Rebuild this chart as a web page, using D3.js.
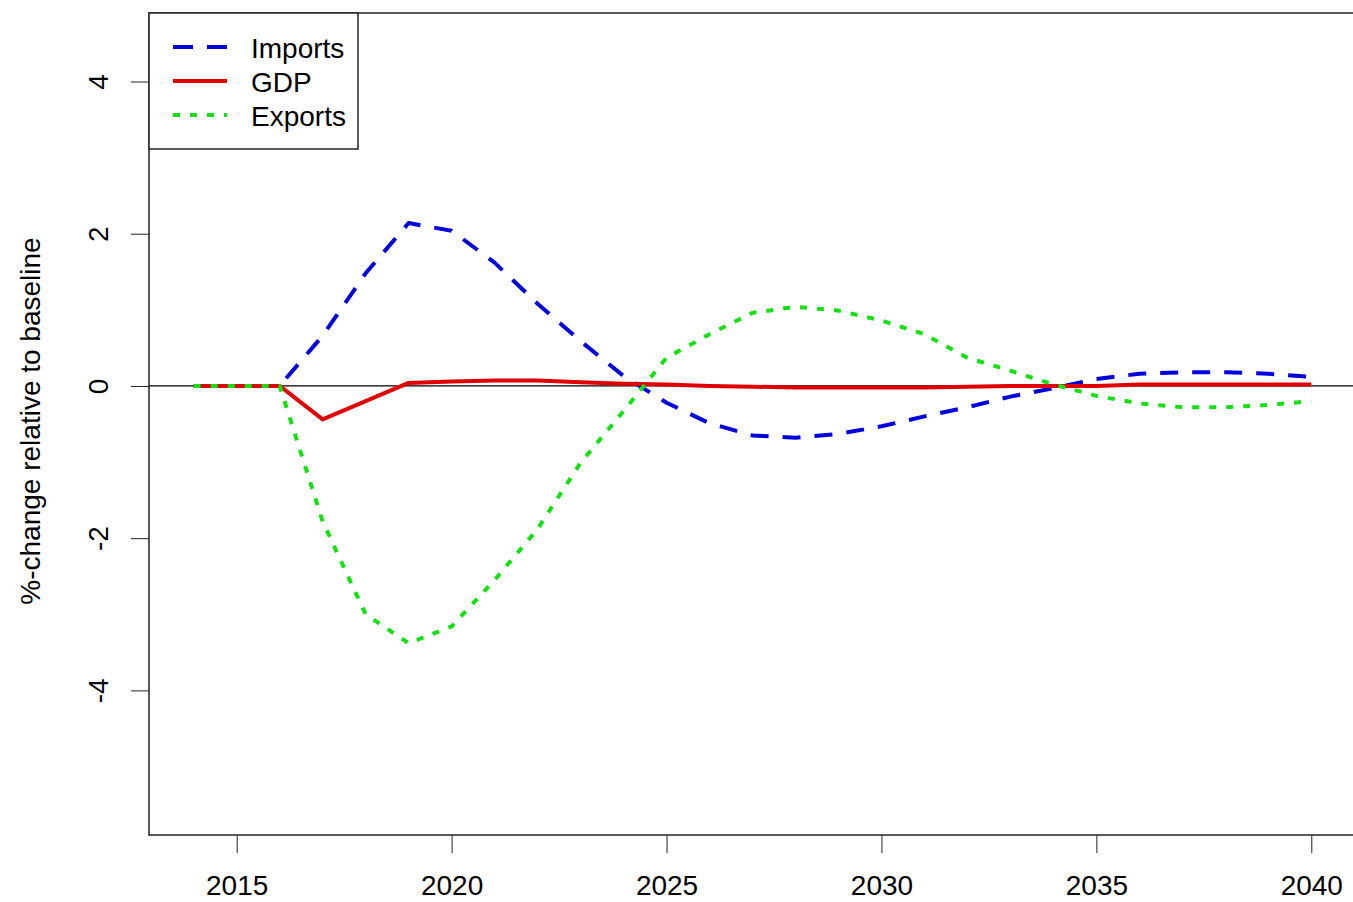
<!DOCTYPE html>
<html>
<head>
<meta charset="utf-8">
<script src="https://cdn.jsdelivr.net/npm/d3@7"></script>
<style>
  html, body { margin: 0; padding: 0; background: #fff; }
  svg { display: block; font-family: "Liberation Sans", Arial, sans-serif; }
</style>
</head>
<body>
<svg id="chart" width="1353" height="902"></svg>
<script>
const years = d3.range(2014, 2041);
const imports = [0, 0, 0, 0.66, 1.48, 2.14, 2.04, 1.62, 1.08, 0.59, 0.13, -0.22, -0.49, -0.65, -0.68, -0.63, -0.53, -0.40, -0.28, -0.14, -0.03, 0.09, 0.16, 0.18, 0.18, 0.16, 0.12];
const gdp = [0, 0, 0, -0.44, -0.20, 0.04, 0.06, 0.07, 0.07, 0.05, 0.03, 0.02, 0.0, -0.01, -0.02, -0.02, -0.02, -0.02, -0.01, 0.0, 0.0, 0.0, 0.02, 0.02, 0.02, 0.02, 0.02];
const exportsS = [0, 0, 0, -1.78, -3.0, -3.38, -3.16, -2.55, -1.88, -1.01, -0.33, 0.37, 0.68, 0.96, 1.04, 0.99, 0.86, 0.68, 0.37, 0.20, 0.02, -0.13, -0.23, -0.28, -0.28, -0.25, -0.20];
const xTicks = [2015, 2020, 2025, 2030, 2035, 2040];
const yTicks = [-4, -2, 0, 2, 4];
const seriesNames = ["Imports", "GDP", "Exports"];
const seriesColors = ["#0000dd", "#e00000", "#11e011"];
const seriesDash = ["18,14", null, "7,10"];

const svg = d3.select("#chart");
const pL = 149, pR = 1356, pT = 13, pB = 835;
const x = d3.scaleLinear().domain([2012.96, 2041.04]).range([pL, pR]);
const y = d3.scaleLinear().domain([-5.9, 4.9]).range([pB, pT]);
const fs = 28;

// zero line
svg.append("line")
  .attr("x1", pL).attr("x2", pR)
  .attr("y1", y(0)).attr("y2", y(0))
  .attr("stroke", "#000").attr("stroke-width", 1.2);

const seriesData = [imports, gdp, exportsS];
const line = d3.line().x((d, i) => x(years[i])).y(d => y(d));
seriesData.forEach((s, k) => {
  svg.append("path")
    .attr("d", line(s))
    .attr("fill", "none")
    .attr("stroke", seriesColors[k])
    .attr("stroke-width", 4)
    .attr("stroke-dasharray", seriesDash[k])
    .attr("stroke-linejoin", "round");
});

// box
svg.append("rect")
  .attr("x", pL).attr("y", pT)
  .attr("width", pR - pL).attr("height", pB - pT)
  .attr("fill", "none").attr("stroke", "#222").attr("stroke-width", 1.5);

// x axis
const xAxis = svg.append("g").attr("transform", `translate(0,${pB})`)
  .call(d3.axisBottom(x).tickValues(xTicks).tickFormat(d3.format("d")).tickSize(18).tickSizeOuter(0));
xAxis.select(".domain").remove();
xAxis.selectAll(".tick line").attr("stroke", "#222");
xAxis.selectAll(".tick text")
  .attr("font-size", fs).attr("font-family", "Liberation Sans, Arial, sans-serif")
  .attr("fill", "#000").attr("y", 40).attr("dy", "0.71em");

// y axis
const yAxis = svg.append("g").attr("transform", `translate(${pL},0)`)
  .call(d3.axisLeft(y).tickValues(yTicks).tickFormat(d3.format("d")).tickSize(18).tickSizeOuter(0));
yAxis.select(".domain").remove();
yAxis.selectAll(".tick line").attr("stroke", "#222");
yAxis.selectAll(".tick text").remove();
yAxis.selectAll(".tick").append("text")
  .attr("transform", "translate(-41,0) rotate(-90)")
  .attr("text-anchor", "middle")
  .attr("font-size", fs)
  .attr("font-family", "Liberation Sans, Arial, sans-serif")
  .attr("fill", "#000")
  .text(d => d);

// y title
svg.append("text")
  .attr("transform", `translate(40,${(pT + pB) / 2 - 3}) rotate(-90)`)
  .attr("text-anchor", "middle")
  .attr("font-size", fs)
  .attr("fill", "#000")
  .text("%-change relative to baseline");

// legend
const lg = svg.append("g");
lg.append("rect").attr("x", pL).attr("y", pT).attr("width", 209).attr("height", 136)
  .attr("fill", "#fff").attr("stroke", "#222").attr("stroke-width", 1.5);
seriesNames.forEach((n, k) => {
  const cy = 47 + k * 34;
  lg.append("line").attr("x1", 173).attr("x2", 227).attr("y1", cy).attr("y2", cy)
    .attr("stroke", seriesColors[k]).attr("stroke-width", 4)
    .attr("stroke-dasharray", seriesDash[k] === "18,14" ? "20,14" : seriesDash[k]);
  lg.append("text").attr("x", 251).attr("y", cy + 11)
    .attr("font-size", fs).attr("fill", "#000").text(n);
});
</script>
</body>
</html>
